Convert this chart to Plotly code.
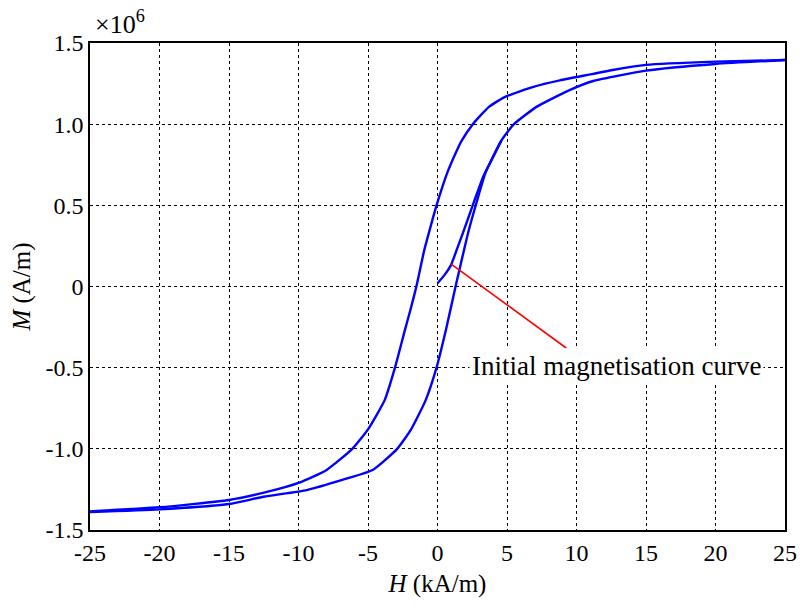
import plotly.graph_objects as go

# Hysteresis loop, H in kA/m, M in units of 1e6 A/m
upper_H = [25, 20, 15, 12.6, 11.2, 8.8, 6.9, 4.9, 3.72, 2.54, 1.75, 1.4, 0.7, -0.07, -0.4,
           -0.95, -1.52, -1.95, -2.35, -3.06, -3.8, -5.0, -6.13, -7.98, -10, -12.2, -15, -20, -25]
upper_M = [1.395, 1.385, 1.365, 1.334, 1.31, 1.27, 1.23, 1.17, 1.108, 1.0, 0.9, 0.84, 0.70, 0.5, 0.40,
           0.225, 0.0, -0.145, -0.27, -0.5, -0.70, -0.88, -1.0, -1.13, -1.21, -1.264, -1.315, -1.36, -1.385]

lower_H = [-25, -20, -15, -12.5, -9.4, -6.8, -4.67, -2.9, -1.9, -0.85, -0.07, 0.6,
           1.3, 1.65, 2.2, 2.85, 3.45, 4.6, 5.5, 7.15, 9.5, 11.2, 15, 20, 25]
lower_M = [-1.39, -1.373, -1.34, -1.295, -1.254, -1.19, -1.13, -1.0, -0.88, -0.70, -0.5, -0.27,
           0.0, 0.13, 0.33, 0.53, 0.70, 0.90, 1.0, 1.108, 1.21, 1.266, 1.33, 1.371, 1.395]

init_H = [0, 0.5, 0.96, 1.4, 1.83, 2.66, 3.3, 3.84, 4.6]
init_M = [0.02, 0.07, 0.13, 0.23, 0.33, 0.53, 0.68, 0.77, 0.90]

pointer_H = [9.26, 0.96]
pointer_M = [-0.379, 0.139]

x_ticks = [-25, -20, -15, -10, -5, 0, 5, 10, 15, 20, 25]
x_labels = ["-25", "-20", "-15", "-10", "-5", "0", "5", "10", "15", "20", "25"]
y_ticks = [-1.5, -1.0, -0.5, 0, 0.5, 1.0, 1.5]
y_labels = ["-1.5", "-1.0", "-0.5", "0", "0.5", "1.0", "1.5"]

FONT = "Liberation Serif"
BLUE = "#0000ff"

fig = go.Figure()
for hx, my in [(upper_H, upper_M), (lower_H, lower_M), (init_H, init_M)]:
    fig.add_trace(go.Scatter(x=hx, y=my, mode="lines",
                             line=dict(color=BLUE, width=2.4, shape="spline", smoothing=0.5),
                             showlegend=False, hoverinfo="skip"))
fig.add_trace(go.Scatter(x=pointer_H, y=pointer_M, mode="lines", line=dict(color="#ff0000", width=1.6),
                         showlegend=False, hoverinfo="skip"))

fig.add_annotation(x=2.23, y=-0.49, xref="x", yref="y", text="Initial magnetisation curve",
                   showarrow=False, xanchor="left", yanchor="middle", bgcolor="white", borderpad=2,
                   font=dict(family=FONT, size=27, color="black"))
fig.add_annotation(x=0.005, y=1.0, xref="paper", yref="paper", text="×10<sup>6</sup>",
                   showarrow=False, xanchor="left", yanchor="bottom", yshift=2,
                   font=dict(family=FONT, size=26, color="black"))

axis_common = dict(showline=True, linecolor="black", linewidth=1.5, mirror=True,
                   showgrid=True, gridcolor="black", gridwidth=1, griddash="dot",
                   zeroline=False, ticks="", tickfont=dict(family=FONT, size=24, color="black"))
fig.update_xaxes(range=[-25, 25], tickmode="array", tickvals=x_ticks, ticktext=x_labels,
                 title=dict(text="<i>H</i> (kA/m)", font=dict(family=FONT, size=25, color="black"), standoff=10),
                 **axis_common)
fig.update_yaxes(range=[-1.5, 1.5], tickmode="array", tickvals=y_ticks, ticktext=y_labels,
                 title=dict(text="<i>M</i> (A/m)", font=dict(family=FONT, size=25, color="black"), standoff=8),
                 **axis_common)

fig.update_layout(width=809, height=606, margin=dict(l=90, r=14, t=43, b=76),
                  paper_bgcolor="white", plot_bgcolor="white", font=dict(family=FONT))
fig.write_html("out.html")
